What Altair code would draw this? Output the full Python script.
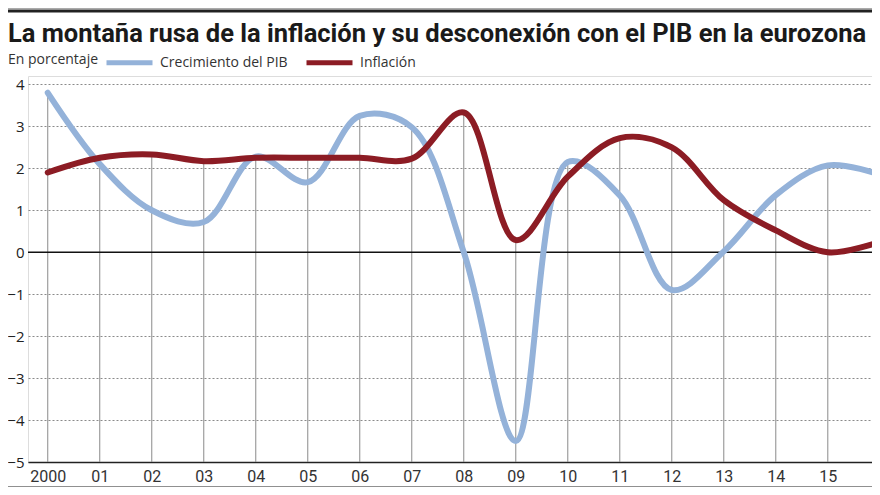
import altair as alt
import pandas as pd

years = list(range(2000, 2017))
gdp = [3.8, 2.1, 1.0, 0.72, 2.28, 1.67, 3.25, 2.98, 0.0, -4.5, 2.15, 1.35, -0.9, 0.02, 1.36, 2.07, 1.85]
inflation = [1.9, 2.25, 2.33, 2.17, 2.25, 2.25, 2.25, 2.23, 3.33, 0.29, 1.8, 2.72, 2.5, 1.24, 0.52, 0.0, 0.25]
series_names = ["Crecimiento del PIB", "Inflación"]
series_colors = ["#94b2d9", "#8c1c24"]
y_ticks = [-5, -4, -3, -2, -1, 0, 1, 2, 3, 4]

TITLE = "La montaña rusa de la inflación y su desconexión con el PIB en la eurozona"
SUBTITLE = "En porcentaje"
TITLE_FONT = "Roboto, Liberation Sans, sans-serif"
SANS = "Open Sans, Noto Sans, sans-serif"

long_df = pd.DataFrame({
    "year": years * 2,
    "value": gdp + inflation,
    "serie": [series_names[0]] * len(years) + [series_names[1]] * len(years),
})
drop_df = pd.DataFrame({
    "year": years,
    "top": [max(a, b) for a, b in zip(gdp, inflation)],
    "base": [-5] * len(years),
})

W, H = 844, 386
x_scale = alt.Scale(domain=[1999.62, 2015.85], nice=False, zero=False)
y_scale = alt.Scale(domain=[-5, 4.2], nice=False, zero=False)

x_axis = alt.Axis(
    values=years, grid=False, ticks=False, domain=True, domainColor="#222",
    domainWidth=1.6, labelExpr="datum.value == 2000 ? '2000' : format(datum.value - 2000, '02d')",
    labelFont=TITLE_FONT, labelFontSize=16, labelColor="#333", labelPadding=6, title=None,
    labelFlush=False, labelOverlap=False,
)
y_axis = alt.Axis(
    values=y_ticks, grid=True, gridDash=[2, 2], gridColor="#8a8a8a", gridWidth=1,
    ticks=False, domain=False, labelFont=SANS, labelFontSize=15, labelColor="#222",
    labelPadding=4, title=None,
)

drops = alt.Chart(drop_df).mark_rule(color="#8a8a8a", strokeWidth=1, clip=True).encode(
    x=alt.X("year:Q", scale=x_scale, axis=x_axis),
    y=alt.Y("top:Q", scale=y_scale, axis=y_axis),
    y2="base:Q",
)

zero_rule = alt.Chart(pd.DataFrame({"v": [0]})).mark_rule(color="#111", strokeWidth=1.6).encode(
    y=alt.Y("v:Q", scale=y_scale),
)

lines = alt.Chart(long_df).mark_line(
    interpolate="catmull-rom", strokeWidth=6, strokeCap="round", clip=True
).encode(
    x=alt.X("year:Q", scale=x_scale),
    y=alt.Y("value:Q", scale=y_scale),
    color=alt.Color(
        "serie:N",
        scale=alt.Scale(domain=series_names, range=series_colors),
        sort=series_names,
        legend=alt.Legend(
            title=None, orient="none",
            legendX=76, legendY=-39, direction="horizontal",
            symbolType="stroke", symbolSize=2116, symbolStrokeWidth=5,
            labelFont=SANS, labelFontSize=14, labelColor="#333",
            labelOffset=5, columnPadding=8, symbolOffset=0,
        ),
    ),
    order=alt.Order("serie:N"),
)

title_mark = alt.Chart(pd.DataFrame({"t": [TITLE]})).mark_text(
    align="left", baseline="alphabetic", font=TITLE_FONT, fontSize=25.5, fontWeight="bold", color="#1a1a1a",
).encode(x=alt.value(-20), y=alt.value(-34), text="t:N")

subtitle_mark = alt.Chart(pd.DataFrame({"t": [SUBTITLE]})).mark_text(
    align="left", baseline="middle", font=SANS, fontSize=14, color="#333",
).encode(x=alt.value(-20), y=alt.value(-16), text="t:N")

top_bar = alt.Chart(pd.DataFrame({"k": [0]})).mark_rule(color="#222", strokeWidth=3).encode(
    x=alt.value(-20), x2=alt.value(W), y=alt.value(-65),
)
top_bar2 = alt.Chart(pd.DataFrame({"k": [0]})).mark_rule(color="#aaa", strokeWidth=2).encode(
    x=alt.value(-20), x2=alt.value(W), y=alt.value(-68),
)
bottom_bar = alt.Chart(pd.DataFrame({"k": [0]})).mark_rule(color="#222", strokeWidth=3).encode(
    x=alt.value(-20), x2=alt.value(W), y=alt.value(H + 26),
)

chart = alt.layer(
    drops, zero_rule, lines, title_mark, subtitle_mark, top_bar2, top_bar, bottom_bar
).properties(
    width=W, height=H,
    autosize=alt.AutoSizeParams(type="none"),
    padding={"left": 20, "top": 68, "right": 0, "bottom": 25},
).configure_view(stroke=None).configure(background="white")

chart.save("out.html", embed_options={"renderer": "svg", "actions": False})
